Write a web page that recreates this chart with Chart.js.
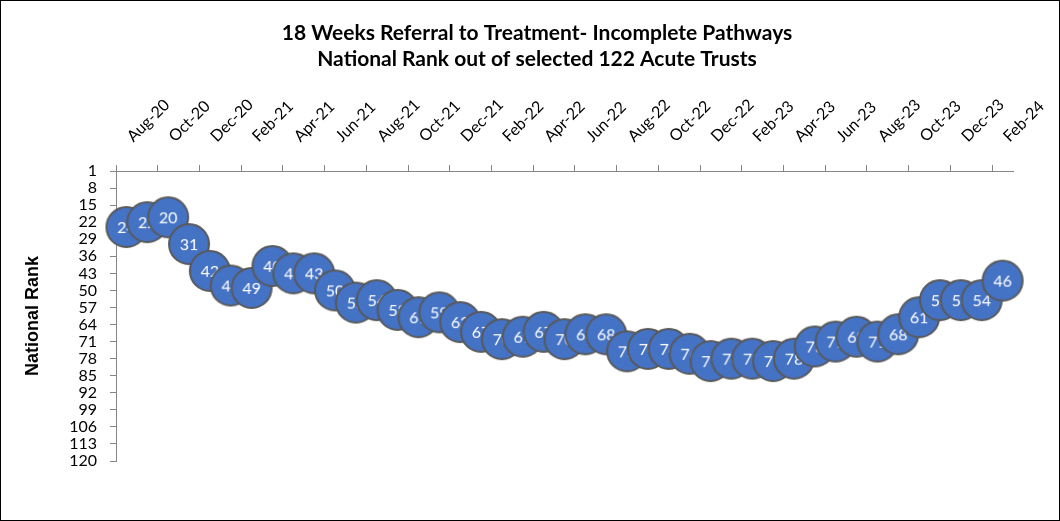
<!DOCTYPE html>
<html>
<head>
<meta charset="utf-8">
<script src="https://cdn.jsdelivr.net/npm/chart.js@4.4.1/dist/chart.umd.min.js"></script>
<style>
  body { margin: 0; background: #fff; }
  canvas { display: block; }
</style>
</head>
<body>
<canvas id="rankChart" width="1060" height="521"></canvas>
<script>
const titleLines = [
  "18 Weeks Referral to Treatment- Incomplete Pathways",
  "National Rank out of selected 122 Acute Trusts"
];

const months = [
  "Aug-20", "Sep-20", "Oct-20", "Nov-20", "Dec-20",
  "Jan-21", "Feb-21", "Mar-21", "Apr-21", "May-21", "Jun-21", "Jul-21",
  "Aug-21", "Sep-21", "Oct-21", "Nov-21", "Dec-21",
  "Jan-22", "Feb-22", "Mar-22", "Apr-22", "May-22", "Jun-22", "Jul-22",
  "Aug-22", "Sep-22", "Oct-22", "Nov-22", "Dec-22",
  "Jan-23", "Feb-23", "Mar-23", "Apr-23", "May-23", "Jun-23", "Jul-23",
  "Aug-23", "Sep-23", "Oct-23", "Nov-23", "Dec-23",
  "Jan-24", "Feb-24"
];

// national rank per month (1 = best)
const ranks = [
  24, 22, 20, 31, 42,
  48, 49, 40, 43, 43, 50, 55,
  54, 58, 61, 59, 63,
  67, 70, 69, 67, 70, 68, 68,
  75, 74, 74, 76, 79,
  78, 78, 79, 78, 73, 71, 69,
  71, 68, 61, 54, 54,
  54, 46
];

const yTicks = [1, 8, 15, 22, 29, 36, 43, 50, 57, 64, 71, 78, 85, 92, 99, 106, 113, 120];

const axisGrey = "#868686";

// each marker is a little canvas: blue bubble with its value written inside,
// so later bubbles cover the labels of earlier ones
function makeBubble(value) {
  const c = document.createElement("canvas");
  c.width = 46;
  c.height = 46;
  const g = c.getContext("2d");
  g.beginPath();
  g.arc(23, 23, 20, 0, Math.PI * 2);
  g.fillStyle = "#4472C4";
  g.fill();
  g.lineWidth = 2;
  g.strokeStyle = "#595959";
  g.stroke();
  g.fillStyle = "#fff";
  g.font = "16px Lato";
  g.textAlign = "center";
  g.textBaseline = "middle";
  g.fillText(String(value), 23, 24);
  return c;
}

const frame = {
  id: "frame",
  afterDraw(chart) {
    const ctx = chart.ctx;
    ctx.save();
    ctx.strokeStyle = "#000";
    ctx.lineWidth = 1;
    ctx.strokeRect(0.5, 0.5, chart.width - 1, chart.height - 1);
    ctx.restore();
  }
};

new Chart(document.getElementById("rankChart"), {
  type: "line",
  data: {
    labels: months,
    datasets: [{
      label: "National Rank",
      data: ranks,
      showLine: false,
      pointStyle: ranks.map(makeBubble),
      pointRadius: 21,
      clip: false
    }]
  },
  options: {
    responsive: false,
    animation: false,
    events: [],
    layout: { padding: { left: 14, right: 0, top: 0, bottom: 60 } },
    plugins: {
      legend: { display: false },
      tooltip: { enabled: false },
      title: {
        display: true,
        text: titleLines,
        color: "#000",
        font: { family: "Lato", size: 21, weight: "bold", lineHeight: 26 / 21 },
        padding: { top: 20, bottom: 0 }
      }
    },
    scales: {
      x: {
        position: "top",
        offset: true,
        afterFit: (s) => { s.height = 99; s.paddingRight = 47; },
        ticks: {
          autoSkip: false,
          minRotation: 45,
          maxRotation: 45,
          padding: 19,
          labelOffset: 17,
          color: "#000",
          font: { family: "Lato", size: 16 },
          callback: (v, i) => (i % 2 === 0 ? months[i] : "")
        },
        grid: {
          offset: true,
          drawOnChartArea: false,
          tickLength: 6,
          tickColor: (c) => (c.index % 2 === 0 ? axisGrey : "rgba(0,0,0,0)")
        },
        border: { color: axisGrey }
      },
      y: {
        reverse: true,
        min: 1,
        max: 120,
        afterFit: (s) => { s.width = 102; },
        afterBuildTicks: (s) => { s.ticks = yTicks.map((v) => ({ value: v })); },
        ticks: {
          autoSkip: false,
          padding: 13,
          color: "#000",
          font: { family: "Lato", size: 16, lineHeight: 1 }
        },
        grid: { drawOnChartArea: false, tickLength: 6, tickColor: axisGrey },
        border: { color: axisGrey },
        title: {
          display: true,
          text: "National Rank",
          color: "#000",
          font: { family: "Liberation Sans", size: 18, weight: "bold" },
          padding: { top: 8, bottom: 0 }
        }
      }
    }
  },
  plugins: [frame]
});
</script>
</body>
</html>
